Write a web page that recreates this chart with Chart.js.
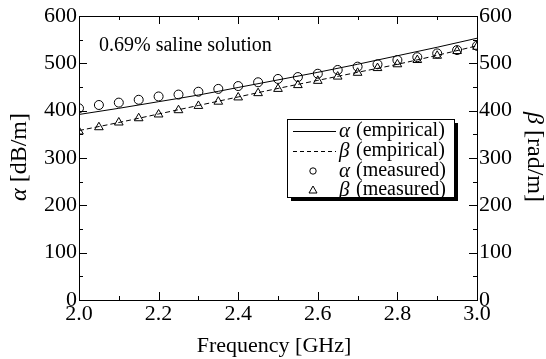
<!DOCTYPE html>
<html>
<head>
<meta charset="utf-8">
<script src="https://cdn.jsdelivr.net/npm/chart.js@4/dist/chart.umd.min.js"></script>
<style>
  html, body { margin: 0; padding: 0; background: #fff; }
  #wrap { width: 546px; height: 359px; }
</style>
</head>
<body>
<div id="wrap"><canvas id="chart" width="546" height="359"></canvas></div>
<script>
// Frecuencias y valores
const freqLine = [2.0, 2.1, 2.2, 2.3, 2.4, 2.5, 2.6, 2.7, 2.8, 2.9, 3.0];
const alphaEmpirical = [392, 405, 419, 433, 449, 465, 481, 498, 516, 534, 553];
const betaEmpirical  = [358, 375, 393, 411, 429, 447, 464, 481, 498, 517, 537];

const freqMeas = [2.0, 2.05, 2.1, 2.15, 2.2, 2.25, 2.3, 2.35, 2.4, 2.45, 2.5,
                  2.55, 2.6, 2.65, 2.7, 2.75, 2.8, 2.85, 2.9, 2.95, 3.0];
const alphaMeasured = [405, 412, 417, 423, 430, 434, 440, 446, 452, 460, 467,
                       471, 478, 486, 493, 498, 507, 513, 521, 528, 537];
const betaMeasured  = [356, 365, 375, 384, 392, 401, 410, 419, 428, 437, 446,
                       454, 463, 472, 480, 490, 498, 507, 516, 526, 535];

const xTicks = [2.0, 2.2, 2.4, 2.6, 2.8, 3.0];
const yTicks = [0, 100, 200, 300, 400, 500, 600];

const SERIF = '"Liberation Serif", "DejaVu Serif", serif';

function toPoints(xs, ys) {
  return xs.map((x, i) => ({ x: x, y: ys[i] }));
}

// Marcos, ticks interiores, titulos y leyenda
const decorPlugin = {
  id: 'decor',
  afterDraw(chart) {
    const ctx = chart.ctx;
    const a = chart.chartArea;
    const xs = chart.scales.x;
    const ys = chart.scales.y;
    ctx.save();
    ctx.strokeStyle = '#000';
    ctx.lineWidth = 1;
    ctx.setLineDash([]);
    ctx.strokeRect(a.left + 0.5, a.top + 0.5, a.right - a.left, a.bottom - a.top);

    // ticks hacia dentro (mayores y menores)
    ctx.beginPath();
    for (let i = 0; i <= 10; i++) {
      const v = 2 + i * 0.1;
      const px = Math.round(xs.getPixelForValue(v)) + 0.5;
      const len = i % 2 === 0 ? 8 : 4;
      ctx.moveTo(px, a.bottom); ctx.lineTo(px, a.bottom - len);
      ctx.moveTo(px, a.top); ctx.lineTo(px, a.top + len);
    }
    for (let i = 0; i <= 12; i++) {
      const v = i * 50;
      const py = Math.round(ys.getPixelForValue(v)) + 0.5;
      const len = i % 2 === 0 ? 8 : 4;
      ctx.moveTo(a.left, py); ctx.lineTo(a.left + len, py);
      ctx.moveTo(a.right, py); ctx.lineTo(a.right - len, py);
    }
    ctx.stroke();

    // texto de la muestra
    ctx.fillStyle = '#000';
    ctx.textBaseline = 'middle';
    ctx.textAlign = 'left';
    ctx.font = '20px ' + SERIF;
    ctx.fillText('0.69% saline solution', 99, 46);

    // titulo eje x
    ctx.textAlign = 'center';
    ctx.font = '22px ' + SERIF;
    ctx.fillText('Frequency [GHz]', 274, 346);

    // titulo eje izquierdo (rotado)
    drawRotatedTitle(ctx, 'α', ' [dB/m]', 20, 157, -Math.PI / 2);
    // titulo eje derecho
    drawRotatedTitle(ctx, 'β', ' [rad/m]', 534, 157, Math.PI / 2);

    // leyenda
    const bx = 287, by = 119, bw = 167, bh = 78;
    ctx.fillStyle = '#000';
    ctx.fillRect(bx + 4, by + 4, bw, bh);
    ctx.fillStyle = '#fff';
    ctx.fillRect(bx, by, bw, bh);
    ctx.strokeRect(bx + 0.5, by + 0.5, bw, bh);

    const rows = [
      { sym: 'α', txt: '(empirical)', kind: 'solid', y: 131 },
      { sym: 'β', txt: '(empirical)', kind: 'dash', y: 151 },
      { sym: 'α', txt: '(measured)', kind: 'circle', y: 171 },
      { sym: 'β', txt: '(measured)', kind: 'tri', y: 190 }
    ];
    rows.forEach(r => {
      ctx.strokeStyle = '#000';
      ctx.lineWidth = 1;
      if (r.kind === 'solid' || r.kind === 'dash') {
        ctx.setLineDash(r.kind === 'dash' ? [4, 3] : []);
        ctx.beginPath();
        ctx.moveTo(293, r.y + 0.5); ctx.lineTo(336, r.y + 0.5);
        ctx.stroke();
        ctx.setLineDash([]);
      } else if (r.kind === 'circle') {
        ctx.beginPath();
        ctx.arc(313, r.y, 3.2, 0, Math.PI * 2);
        ctx.stroke();
      } else {
        ctx.beginPath();
        ctx.moveTo(313, r.y - 4); ctx.lineTo(317, r.y + 3); ctx.lineTo(309, r.y + 3);
        ctx.closePath();
        ctx.stroke();
      }
      ctx.fillStyle = '#000';
      ctx.textAlign = 'left';
      ctx.font = 'italic 21px ' + SERIF;
      ctx.fillText(r.sym, 339, r.y);
      ctx.font = '20px ' + SERIF;
      ctx.fillText(r.txt, 356, r.y);
    });
    ctx.restore();
  }
};

function drawRotatedTitle(ctx, sym, rest, cx, cy, angle) {
  ctx.save();
  ctx.translate(cx, cy);
  ctx.rotate(angle);
  ctx.textBaseline = 'middle';
  ctx.textAlign = 'left';
  ctx.font = 'italic 24px ' + SERIF;
  const w1 = ctx.measureText(sym).width;
  ctx.font = '24px ' + SERIF;
  const w2 = ctx.measureText(rest).width;
  const start = -(w1 + w2) / 2;
  ctx.font = 'italic 24px ' + SERIF;
  ctx.fillText(sym, start, 0);
  ctx.font = '24px ' + SERIF;
  ctx.fillText(rest, start + w1, 0);
  ctx.restore();
}

const ctx = document.getElementById('chart').getContext('2d');
new Chart(ctx, {
  type: 'scatter',
  data: {
    datasets: [
      {
        label: 'α (empirical)',
        data: toPoints(freqLine, alphaEmpirical),
        showLine: true,
        borderColor: '#000',
        borderWidth: 1,
        pointRadius: 0,
        cubicInterpolationMode: 'monotone'
      },
      {
        label: 'β (empirical)',
        data: toPoints(freqLine, betaEmpirical),
        showLine: true,
        borderColor: '#000',
        borderWidth: 1,
        borderDash: [5, 3],
        pointRadius: 0,
        cubicInterpolationMode: 'monotone'
      },
      {
        label: 'α (measured)',
        data: toPoints(freqMeas, alphaMeasured),
        showLine: false,
        pointStyle: 'circle',
        pointRadius: 4.5,
        borderColor: '#000',
        borderWidth: 1,
        backgroundColor: 'rgba(0,0,0,0)'
      },
      {
        label: 'β (measured)',
        data: toPoints(freqMeas, betaMeasured),
        showLine: false,
        pointStyle: 'triangle',
        pointRadius: 5,
        borderColor: '#000',
        borderWidth: 1,
        backgroundColor: 'rgba(0,0,0,0)'
      }
    ]
  },
  options: {
    responsive: false,
    animation: false,
    layout: { padding: { top: 16, left: 0, right: 0, bottom: 0 } },
    plugins: {
      legend: { display: false },
      tooltip: { enabled: false }
    },
    scales: {
      x: {
        type: 'linear',
        min: 2, max: 3,
        grid: { display: false, drawTicks: false },
        border: { display: false },
        afterFit: s => { s.height = 59; },
        afterBuildTicks: s => { s.ticks = xTicks.map(v => ({ value: v })); },
        ticks: {
          color: '#000',
          padding: 1,
          maxRotation: 0,
          font: { family: SERIF, size: 22 },
          callback: v => Number(v).toFixed(1)
        }
      },
      y: {
        position: 'left',
        min: 0, max: 600,
        grid: { display: false, drawTicks: false },
        border: { display: false },
        afterFit: s => { s.width = 79; },
        afterBuildTicks: s => { s.ticks = yTicks.map(v => ({ value: v })); },
        ticks: {
          color: '#000',
          padding: 2,
          font: { family: SERIF, size: 22 }
        }
      },
      y2: {
        position: 'right',
        min: 0, max: 600,
        grid: { display: false, drawTicks: false },
        border: { display: false },
        afterFit: s => { s.width = 69; },
        afterBuildTicks: s => { s.ticks = yTicks.map(v => ({ value: v })); },
        ticks: {
          color: '#000',
          padding: 2,
          font: { family: SERIF, size: 22 }
        }
      }
    }
  },
  plugins: [decorPlugin]
});
</script>
</body>
</html>
